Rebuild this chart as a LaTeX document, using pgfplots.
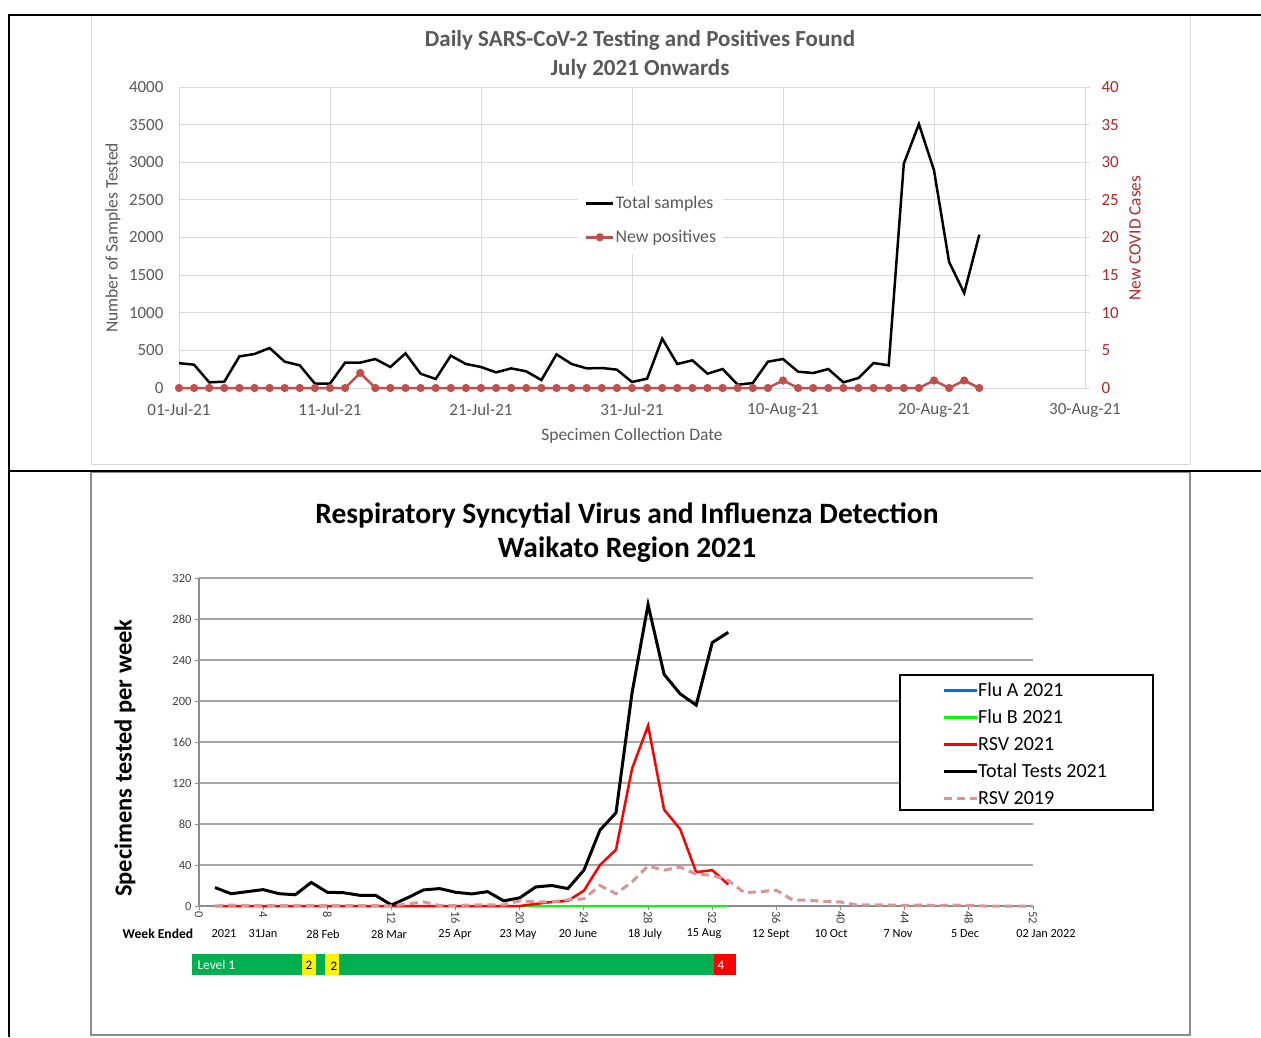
\documentclass[border=0pt]{standalone}
\usepackage{pgfplots}
\pgfplotsset{compat=1.18}
\usepackage{pgfplotstable}
\usepackage{fontspec}
\setmainfont{Carlito}
\definecolor{gridc}{HTML}{D9D9D9}
\definecolor{txtg}{HTML}{595959}
\definecolor{posred}{HTML}{C0504D}
\definecolor{axred}{RGB}{176,40,40}
\definecolor{rsvnt}{HTML}{D99694}
\definecolor{flua}{HTML}{0070F0}
\definecolor{flub}{HTML}{00FF00}
\definecolor{lvgreen}{HTML}{00B050}
\definecolor{axtwo}{HTML}{8C8C8C}
\definecolor{gridtwo}{HTML}{A6A6A6}
\definecolor{darkt}{HTML}{404040}
\newcommand{\fs}[1]{\fontsize{#1}{#1}\selectfont}

\pgfplotstableread{
d v p
0 330 0
1 310 0
2 75 0
3 84 0
4 420 0
5 452 0
6 532 0
7 350 0
8 301 0
9 58 0
10 58 0
11 337 0
12 337 2
13 385 0
14 279 0
15 461 0
16 190 0
17 120 0
18 430 0
19 319 0
20 279 0
21 208 0
22 261 0
23 221 0
24 106 0
25 447 0
26 319 0
27 261 0
28 266 0
29 244 0
30 80 0
31 124 0
32 656 0
33 319 0
34 368 0
35 190 0
36 252 0
37 44 0
38 66 0
39 350 0
40 385 1
41 217 0
42 199 0
43 252 0
44 75 0
45 133 0
46 332 0
47 301 0
48 2981 0
49 3508 0
50 2893 1
51 1675 0
52 1263 1
53 2038 0
}\daily

\pgfplotstableread{
w tot rsv
1 18 0
2 12 0
3 14 0
4 16 0
5 12 0
6 11 0
7 23 0
8 13.4 0
9 13 0
10 10.5 0
11 10.5 0
12 1 0
13 8 0
14 15.7 0
15 17 0
16 13.4 0
17 11.8 0
18 14 0
19 5 0
20 8 0
21 18.6 2
22 20 4
23 17 5
24 35 15
25 74 40
26 91 55
27 208 134
28 294 176
29 226 94
30 207 75
31 196 33
32 257 35
33 267 21
}\weekly

\pgfplotstableread{
w a b
20 0 0
21 0 0
22 0 0
23 0 0
24 0 0
25 0 0
26 0 0
27 0 0
28 0 0
29 0 0
30 0 0
31 0 0
32 0 0
33 0 0
}\flu

\pgfplotstableread{
w r
1 0
2 1
3 0.5
4 0.5
5 0.5
6 0.5
7 0.5
8 0.5
9 0.5
10 0.5
11 0.5
12 0
13 2
14 4
15 0.5
16 0.5
17 1
18 1
19 1
20 5
21 4
22 4
23 6
24 7
25 20
26 12
27 23.5
28 39
29 35
30 38
31 31
32 30
33 25
34 13
35 14
36 15.4
37 6
38 5.5
39 4.6
40 4
41 1
42 1
43 1
44 0.5
45 1
46 0.5
47 1
48 0.5
49 0
50 0
51 0
52 0
}\rsvold

\begin{document}
\begin{tikzpicture}[x=1pt,y=-1pt]
\path[use as bounding box] (0,0) rectangle (1261,1037);
% frames
\draw[gridc, line width=1pt] (91,15) rectangle (1190,464);
\draw[axtwo, line width=1.5pt] (91,472) rectangle (1190,1035);
\draw[black, line width=2pt] (8,15) -- (1261,15);
\draw[black, line width=2pt] (9,15) -- (9,1037);
\draw[black, line width=2pt] (8,471) -- (1261,471);

% ---------------- Chart 1 ----------------
\node[text=txtg, font=\bfseries\fs{23}] at (640,40) {Daily SARS-CoV-2 Testing and Positives Found};
\node[text=txtg, font=\bfseries\fs{23}] at (640,69) {July 2021 Onwards};
\node[rotate=90, text=txtg, font=\fs{17.5}] at (113,238) {Number of Samples Tested};
\node[rotate=90, text=axred, font=\fs{17.3}] at (1135,238) {New COVID Cases};
\node[text=txtg, font=\fs{17.5}] at (632,436) {Specimen Collection Date};

\begin{axis}[
  at={(179pt,-388pt)}, anchor=south west,
  scale only axis, width=906pt, height=301pt,
  xmin=0, xmax=60, ymin=0, ymax=4000,
  xtick={0,10,...,60},
  xticklabels={01-Jul-21,11-Jul-21,21-Jul-21,31-Jul-21,10-Aug-21,20-Aug-21,30-Aug-21},
  ytick={0,500,...,4000},
  grid=major, grid style={gridc, line width=1pt},
  axis x line*=bottom, axis y line*=left,
  axis line style={gridc, line width=1pt},
  major tick length=0pt,
  /pgf/number format/assume math mode=true,
  /pgf/number format/1000 sep={},
  ticklabel style={font=\fs{17}, text=txtg},
  xticklabel style={yshift=-12pt},
  yticklabel style={xshift=-12pt},
]
\addplot[black, line width=2.5pt] table[x=d, y=v] {\daily};
\end{axis}

\begin{axis}[
  at={(179pt,-388pt)}, anchor=south west,
  scale only axis, width=906pt, height=301pt,
  xmin=0, xmax=60, ymin=0, ymax=40,
  axis x line=none, axis y line*=right,
  ytick={0,5,...,40},
  axis line style={gridc, line width=1pt},
  tick style={gridc, line width=1pt}, tick align=outside, major tick length=5pt,
  /pgf/number format/assume math mode=true,
  yticklabel style={font=\fs{17}, text=axred, xshift=8pt},
  clip=false,
  legend style={at={(rel axis cs:0.448,0.641)}, anchor=north west, draw=none, fill=none,
    inner sep=0pt, row sep=18pt, column sep=1pt,
    nodes={inner sep=0pt, text height=13pt, text depth=3pt, font=\fs{17.8}, text=txtg}},
  legend cell align=left,
  legend image code/.code={\draw[mark repeat=2,mark phase=2,#1] plot coordinates {(0pt,0pt) (13.5pt,0pt) (27pt,0pt)};},
]
\fill[white] (axis cs:26.4,26.8) rectangle (axis cs:36.0,17.8);
\addlegendimage{black, line width=2.5pt}
\addlegendentry{Total samples}
\addplot[posred, line width=2.5pt, mark=*, mark size=2.8pt, mark options={fill=posred, solid}] table[x=d, y=p] {\daily};
\addlegendentry{New positives}
\end{axis}

% ---------------- Chart 2 ----------------
\node[font=\bfseries\fs{29.5}] at (627,515) {Respiratory Syncytial Virus and Influenza Detection};
\node[font=\bfseries\fs{29.5}] at (627,550) {Waikato Region 2021};
\node[rotate=90, font=\bfseries\fs{24.5}] at (125,758) {Specimens tested per week};

\begin{axis}[
  at={(199pt,-906pt)}, anchor=south west,
  scale only axis, width=834pt, height=328pt,
  xmin=0, xmax=52, ymin=0, ymax=320,
  xtick={0,4,...,52}, ytick={0,40,...,320},
  ymajorgrids, grid style={gridtwo, line width=1.5pt},
  axis x line*=bottom, axis y line*=left,
  axis line style={axtwo, line width=1.5pt},
  tick style={axtwo, line width=1pt}, tick align=outside,
  major tick length=4pt,
  /pgf/number format/assume math mode=true,
  xticklabel style={rotate=-90, anchor=west, font=\fs{12.5}, text=darkt, inner sep=1pt},
  yticklabel style={font=\fs{12.5}, text=darkt},
  clip=false,
  legend style={at={(rel axis cs:0.8405,0.683)}, anchor=north west, draw=none, fill=none,
    inner sep=0pt, row sep=10pt, column sep=0pt,
    nodes={inner sep=0pt, text height=14pt, text depth=3pt, font=\fs{20}, text=black}},
  legend cell align=left,
  legend image code/.code={\path (0pt,0pt); \draw[#1] (42pt,0pt) -- (75pt,0pt);},
]
\addplot[flua, line width=2.5pt] table[x=w, y=a] {\flu};
\addlegendentry{Flu A 2021}
\addplot[flub, line width=2.5pt] table[x=w, y=b] {\flu};
\addlegendentry{Flu B 2021}
\addplot[red, line width=2.5pt] table[x=w, y=rsv] {\weekly};
\addlegendentry{RSV 2021}
\addplot[black, line width=3pt] table[x=w, y=tot] {\weekly};
\addlegendentry{Total Tests 2021}
\addplot[rsvnt, line width=3pt, dash pattern=on 8pt off 5pt] table[x=w, y=r] {\rsvold};
\addlegendentry{RSV 2019}
\filldraw[fill=white, draw=black, line width=1.5pt] (axis cs:43.71,225.4) rectangle (axis cs:59.48,93.66);
\end{axis}

% week ended row
\node[font=\bfseries\fs{13.6}] at (158,934) {Week Ended};
\begin{scope}[every node/.style={font=\fs{12.3}}]
\node at (224,934) {2021};
\node at (263,934) {31Jan};
\node at (323,934) {28 Feb};
\node at (389,934) {28 Mar};
\node at (455,934) {25 Apr};
\node at (518,934) {23 May};
\node at (578,934) {20 June};
\node at (645,934) {18 July};
\node at (704,934) {15 Aug};
\node at (771,934) {12 Sept};
\node at (831,934) {10 Oct};
\node at (898,934) {7 Nov};
\node at (965,934) {5 Dec};
\node at (1046,934) {02 Jan 2022};
\end{scope}

% alert level bar
\fill[lvgreen] (192,954) rectangle (714,975);
\fill[yellow] (302,954) rectangle (316,975);
\fill[yellow] (325,954) rectangle (339,975);
\fill[red] (714,954) rectangle (736,975);
\node[anchor=west, text=white, font=\fs{13.4}] at (194,965) {Level 1};
\node[font=\fs{13}] at (309,965) {2};
\node[font=\fs{13}] at (334,966) {2};
\node[text=white, font=\fs{13}] at (721,965) {4};
\end{tikzpicture}
\end{document}
